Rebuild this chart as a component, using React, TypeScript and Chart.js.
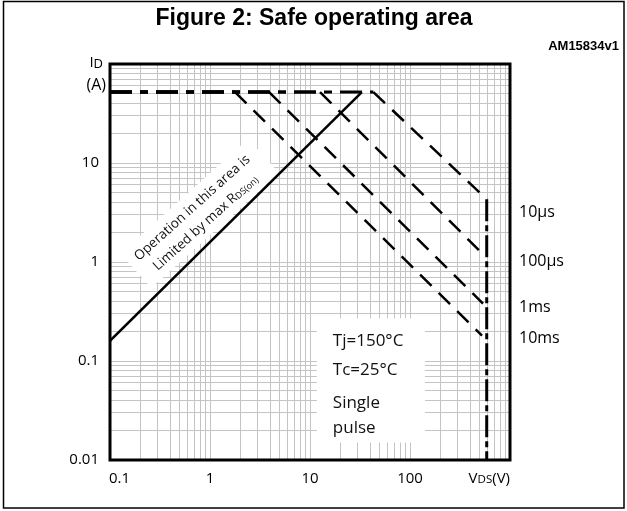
import React, { useEffect, useRef } from "react";
import { Chart, registerables } from "chart.js";

Chart.register(...registerables);

const TITLE = "Figure 2: Safe operating area";
const FIG_ID = "AM15834v1";

const xMin = 0.1;
const xMax = 1000;
const yMin = 0.01;
const yMax = 100;

const xTickValues = [0.1, 1, 10, 100, 1000];
const xTickLabels = ["0.1", "1", "10", "100", "VDS(V)"];
const yTickValues = [0.01, 0.1, 1, 10];
const yTickLabels = ["0.01", "0.1", "1", "10"];

// R_DS(on) limit line
const rdsLimitV = [0.1, 33];
const rdsLimitI = [0.16, 52];

// SOA curves: current limit then power-limited slope
const tenUsV = [0.1, 43, 585];
const tenUsI = [52, 52, 4.3];
const hundredUsV = [0.1, 12.6, 537];
const hundredUsI = [52, 52, 1.2];
const oneMsV = [0.1, 3.9, 537];
const oneMsI = [52, 52, 0.38];
const tenMsV = [0.1, 1.78, 525];
const tenMsI = [52, 52, 0.18];

// V_DS max
const vdsMaxV = [585, 585];
const vdsMaxI = [4.3, 0.01];

const curveNames = ["10µs", "100µs", "1ms", "10ms"];
const curveLabelI = [3.2, 1.02, 0.35, 0.17];

const conditionLines = ["Tj=150°C", "Tc=25°C", "Single", "pulse"];
const noteBoxV = [11.7, 141];
const noteBoxI = [0.27, 0.015];

const rdsNoteLine1 = "Operation in this area is";
const rdsNoteLine2 = "Limited by max R";
const rdsNoteSub = "DS(on)";
const rdsNoteV = 0.79;
const rdsNoteI = 3.1;

const FONT = '"Open Sans", "DejaVu Sans", sans-serif';
const BOLD = '"Liberation Sans", Arial, sans-serif';

const pts = (xs: number[], ys: number[]) => xs.map((v, i) => ({ x: v, y: ys[i] }));

const logGrid = (min: number, max: number) => {
  const t: { value: number }[] = [];
  const e0 = Math.round(Math.log10(min));
  const e1 = Math.round(Math.log10(max));
  for (let e = e0; e < e1; e++) {
    for (let m = 1; m < 10; m++) t.push({ value: parseFloat((m * Math.pow(10, e)).toPrecision(6)) });
  }
  t.push({ value: max });
  return t;
};

type Part = [string, string, number];
const drawRich = (ctx: CanvasRenderingContext2D, parts: Part[], x: number, y: number, align: string) => {
  let total = 0;
  parts.forEach(([t, f]) => {
    ctx.font = f;
    total += ctx.measureText(t).width;
  });
  let cx = align === "right" ? x - total : align === "center" ? x - total / 2 : x;
  ctx.textAlign = "left";
  parts.forEach(([t, f, dy]) => {
    ctx.font = f;
    ctx.fillText(t, cx, y + dy);
    cx += ctx.measureText(t).width;
  });
};

const decor = {
  id: "decor",
  beforeDatasetsDraw(chart: any) {
    const { ctx, scales } = chart;
    const x = scales.x;
    const y = scales.y;
    ctx.save();
    ctx.fillStyle = "#ffffff";
    const bx0 = x.getPixelForValue(noteBoxV[0]);
    const bx1 = x.getPixelForValue(noteBoxV[1]);
    const by0 = y.getPixelForValue(noteBoxI[0]);
    const by1 = y.getPixelForValue(noteBoxI[1]);
    ctx.fillRect(bx0, by0, bx1 - bx0, by1 - by0);
    const cx = x.getPixelForValue(rdsNoteV);
    const cy = y.getPixelForValue(rdsNoteI);
    ctx.translate(cx, cy);
    ctx.rotate((-42 * Math.PI) / 180);
    ctx.fillRect(-86, -23, 172, 46);
    ctx.restore();
  },
  afterDraw(chart: any) {
    const { ctx, chartArea: a, scales } = chart;
    const x = scales.x;
    const y = scales.y;
    ctx.save();
    // plot frame
    ctx.strokeStyle = "#000";
    ctx.lineWidth = 3;
    ctx.strokeRect(a.left, a.top, a.right - a.left, a.bottom - a.top);
    // outer frame
    ctx.lineWidth = 1.5;
    ctx.strokeRect(3.5, 1.5, 620.5, 506.5);

    ctx.fillStyle = "#000";
    ctx.textBaseline = "middle";
    // title
    ctx.font = `bold 23px ${BOLD}`;
    ctx.textAlign = "center";
    ctx.fillText(TITLE, 314, 19);
    ctx.font = `bold 13px ${BOLD}`;
    ctx.textAlign = "right";
    ctx.fillText(FIG_ID, 619, 46);

    // y axis title
    drawRich(ctx, [["I", `15px ${FONT}`, 0], ["D", `13px ${FONT}`, 1]], a.left - 7, a.top - 1, "right");
    drawRich(ctx, [["(A)", `16px ${FONT}`, 0]], a.left - 4, a.top + 21, "right");

    // x tick labels
    const ly = a.bottom + 19;
    xTickValues.forEach((v, i) => {
      const px = x.getPixelForValue(v);
      const lab = xTickLabels[i];
      if (lab === "VDS(V)") {
        drawRich(
          ctx,
          [
            ["V", `15px ${FONT}`, 0],
            ["DS", `11.5px ${FONT}`, 1],
            ["(V)", `15px ${FONT}`, 0],
          ],
          px,
          ly,
          "right"
        );
      } else {
        drawRich(ctx, [[lab, `15px ${FONT}`, 0]], i === 0 ? px - 1 : px, ly, i === 0 ? "left" : "center");
      }
    });

    // curve labels
    curveNames.forEach((n, i) => {
      drawRich(ctx, [[n, `16px ${FONT}`, 0]], a.right + 9, y.getPixelForValue(curveLabelI[i]), "left");
    });

    // condition text
    ctx.fillStyle = "#111";
    const bx0 = x.getPixelForValue(noteBoxV[0]);
    const by0 = y.getPixelForValue(noteBoxI[0]);
    const offs = [23, 52, 85, 110];
    conditionLines.forEach((t, i) => {
      drawRich(ctx, [[t, `17px ${FONT}`, 0]], bx0 + 16, by0 + offs[i], "left");
    });

    // rotated note
    const cx = x.getPixelForValue(rdsNoteV);
    const cy = y.getPixelForValue(rdsNoteI);
    ctx.translate(cx, cy);
    ctx.rotate((-42 * Math.PI) / 180);
    drawRich(ctx, [[rdsNoteLine1, `13.5px ${FONT}`, 0]], -2, -9, "center");
    drawRich(
      ctx,
      [
        [rdsNoteLine2, `13.5px ${FONT}`, 0],
        [rdsNoteSub, `9px ${FONT}`, 2],
      ],
      -2,
      11,
      "center"
    );
    ctx.restore();
  },
};

const limitDash = [22, 8, 8, 8];
const slopeDash = [16, 10];

const soa = (xs: number[], ys: number[]) => ({
  data: pts(xs, ys),
  borderColor: "#000",
  borderWidth: 2.5,
  pointRadius: 0,
  fill: false,
  tension: 0,
  segment: {
    borderDash: (c: any) => (c.p0DataIndex === 0 ? limitDash : slopeDash),
    borderWidth: (c: any) => (c.p0DataIndex === 0 ? 3 : 2.5),
  },
});

export default function App() {
  const ref = useRef<HTMLCanvasElement>(null);
  useEffect(() => {
    if (!ref.current) return;
    const chart = new Chart(ref.current, {
      type: "line",
      data: {
        datasets: [
          soa(tenMsV, tenMsI),
          soa(oneMsV, oneMsI),
          soa(hundredUsV, hundredUsI),
          soa(tenUsV, tenUsI),
          {
            data: pts(vdsMaxV, vdsMaxI),
            borderColor: "#000",
            borderWidth: 3,
            borderDash: [22, 4, 6, 4],
            pointRadius: 0,
            fill: false,
          } as any,
          {
            data: pts(rdsLimitV, rdsLimitI),
            borderColor: "#000",
            borderWidth: 2.5,
            pointRadius: 0,
            fill: false,
          } as any,
        ],
      },
      options: {
        responsive: false,
        maintainAspectRatio: false,
        animation: false,
        events: [],
        layout: { padding: { left: 0, top: 64, right: 117, bottom: 51 } },
        plugins: { legend: { display: false }, tooltip: { enabled: false }, title: { display: false } },
        scales: {
          x: {
            type: "logarithmic",
            min: xMin,
            max: xMax,
            border: { display: false },
            grid: { color: "#c4c4c4", lineWidth: 1, drawTicks: false },
            ticks: { display: false, autoSkip: false },
            afterBuildTicks: (s: any) => {
              s.ticks = logGrid(xMin, xMax);
            },
            afterFit: (s: any) => {
              s.height = 0;
            },
          },
          y: {
            type: "logarithmic",
            min: yMin,
            max: yMax,
            border: { display: false },
            grid: { color: "#c4c4c4", lineWidth: 1, drawTicks: false },
            ticks: {
              autoSkip: false,
              padding: 11,
              color: "#000",
              font: { family: FONT, size: 15 },
              callback: (v: any) => {
                const i = yTickValues.findIndex((t) => Math.abs(t - Number(v)) < t * 1e-6);
                return i >= 0 ? yTickLabels[i] : "";
              },
            },
            afterBuildTicks: (s: any) => {
              s.ticks = logGrid(yMin, yMax);
            },
            afterFit: (s: any) => {
              s.width = 110;
            },
          },
        },
      } as any,
      plugins: [decor],
    });
    return () => chart.destroy();
  }, []);
  return (
    <div style={{ position: "absolute", left: 0, top: 0, width: 627, height: 511, background: "#fff" }}>
      <canvas ref={ref} width={627} height={511} style={{ display: "block" }} />
    </div>
  );
}
